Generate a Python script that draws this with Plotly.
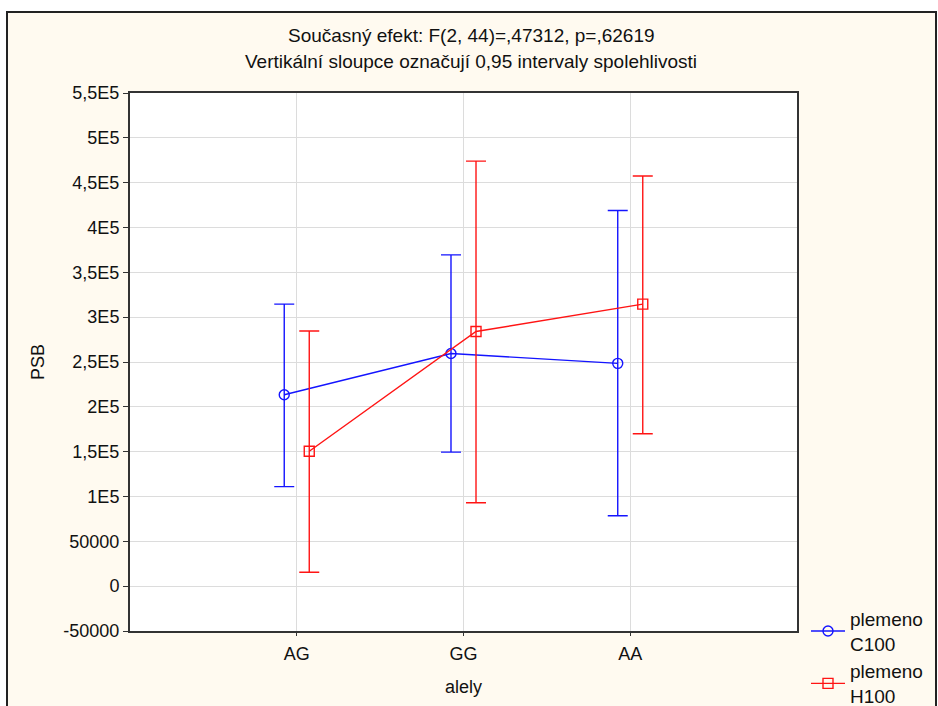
import plotly.graph_objects as go

categories = ["AG", "GG", "AA"]
cat_pos = [0, 1, 2]

c100_mean = [213500, 259500, 248500]
c100_upper = [314500, 369500, 419000]
c100_lower = [111000, 149500, 78500]

h100_mean = [150500, 284000, 314500]
h100_upper = [284500, 474000, 457500]
h100_lower = [15500, 93000, 170000]

ytick_vals = [-50000, 0, 50000, 100000, 150000, 200000, 250000, 300000,
              350000, 400000, 450000, 500000, 550000]
ytick_text = ["-50000", "0", "50000", "1E5", "1,5E5", "2E5", "2,5E5", "3E5",
              "3,5E5", "4E5", "4,5E5", "5E5", "5,5E5"]

title1 = "Současný efekt: F(2, 44)=,47312, p=,62619"
title2 = "Vertikální sloupce označují 0,95 intervaly spolehlivosti"

offset = 0.075
BLUE = "#1414ff"
RED = "#ff1414"
FONT = "Liberation Sans, Arial, sans-serif"
CREAM = "#fffaf0"
TXT = "#111"

fig = go.Figure()

def add_series(name, mean, upper, lower, color, symbol, shift):
    fig.add_trace(go.Scatter(
        x=[p + shift for p in cat_pos],
        y=mean,
        mode="lines+markers",
        name=name,
        line=dict(color=color, width=1.4),
        marker=dict(symbol=symbol, size=10, color=color,
                    line=dict(color=color, width=1.4)),
        error_y=dict(type="data", symmetric=False,
                     array=[u - m for u, m in zip(upper, mean)],
                     arrayminus=[m - l for m, l in zip(mean, lower)],
                     color=color, thickness=1.4, width=10),
    ))

add_series("plemeno<br>C100", c100_mean, c100_upper, c100_lower, BLUE, "circle-open", -offset)
add_series("plemeno<br>H100", h100_mean, h100_upper, h100_lower, RED, "square-open", offset)

fig.update_layout(
    width=938, height=706,
    margin=dict(l=130, r=141, t=93, b=75, autoexpand=False),
    paper_bgcolor="white",
    plot_bgcolor="white",
    font=dict(family=FONT, size=18, color=TXT),
    showlegend=True,
    legend=dict(x=1.0135, y=0.058, xanchor="left", yanchor="top",
                bgcolor="rgba(0,0,0,0)", font=dict(size=19, color=TXT),
                tracegroupgap=0, itemwidth=34),
    shapes=[
        dict(type="rect", xref="paper", yref="paper",
             x0=(7 - 130) / 667, x1=(936 - 130) / 667,
             y0=-0.3, y1=(631 - 12) / 538,
             fillcolor=CREAM, line=dict(color="#222", width=2), layer="below"),
        dict(type="rect", xref="paper", yref="paper", x0=0, x1=1, y0=0, y1=1,
             fillcolor="white", line=dict(width=0), layer="below"),
    ],
    annotations=[
        dict(text=title1, xref="paper", yref="paper", x=(471 - 130) / 667,
             y=(631 - 36) / 538, xanchor="center", yanchor="middle",
             showarrow=False, font=dict(size=19, color=TXT)),
        dict(text=title2, xref="paper", yref="paper", x=(471 - 130) / 667,
             y=(631 - 62) / 538, xanchor="center", yanchor="middle",
             showarrow=False, font=dict(size=19, color=TXT)),
    ],
)

fig.update_xaxes(
    range=[-1, 3],
    tickvals=cat_pos, ticktext=categories,
    showgrid=True, gridcolor="#dcdcdc", gridwidth=1,
    showline=True, linecolor="#333", linewidth=2, mirror=True,
    ticks="outside", ticklen=3, tickcolor="#333",
    ticklabelstandoff=2,
    zeroline=False, automargin=False,
    title=dict(text="alely", standoff=18, font=dict(size=18)),
    tickfont=dict(size=18),
)
fig.update_yaxes(
    range=[-50000, 550000],
    tickvals=ytick_vals, ticktext=ytick_text,
    showgrid=True, gridcolor="#dcdcdc", gridwidth=1,
    showline=True, linecolor="#333", linewidth=2, mirror=True,
    ticks="outside", ticklen=5, tickcolor="#333",
    zeroline=False, automargin=False,
    title=dict(text="PSB", standoff=14, font=dict(size=18)),
    tickfont=dict(size=18),
)

fig.write_html("out.html", config={"displayModeBar": False},
               post_script="document.body.style.margin='0';")
